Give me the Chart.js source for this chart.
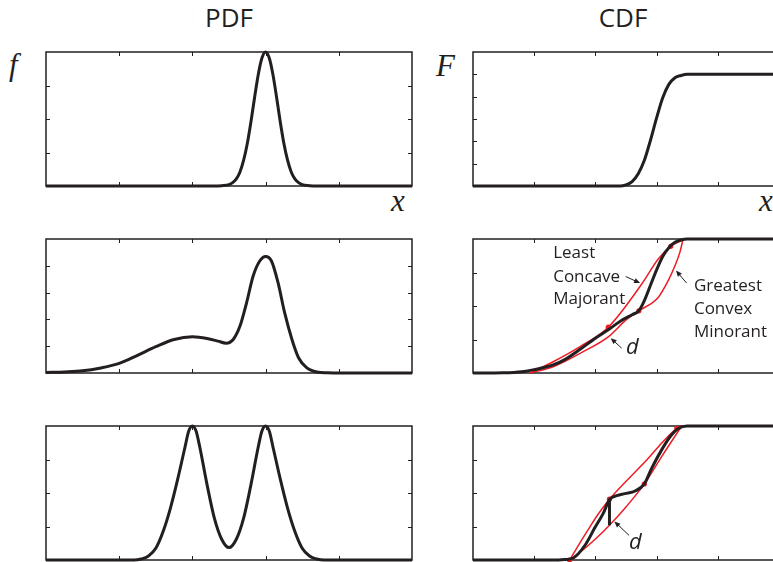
<!DOCTYPE html>
<html>
<head>
<meta charset="utf-8">
<title>PDF / CDF</title>
<script src="https://cdn.jsdelivr.net/npm/chart.js@4.4.1/dist/chart.umd.min.js"></script>
<style>
  html, body { margin: 0; padding: 0; background: #fff; overflow: hidden; }
  #stage { position: relative; width: 773px; height: 562px; overflow: hidden; background: #fff; }
  #stage canvas { position: absolute; }
  .lbl { position: absolute; white-space: nowrap; line-height: 1; color: #231f20; }
  .title { font-family: "Open Sans", sans-serif; font-size: 26px; width: 120px; text-align: center; }
  .var { font-family: "Liberation Serif", "Times New Roman", serif; font-style: italic; font-size: 31px; }
</style>
</head>
<body>
<div id="stage">
  <div class="lbl title" style="left:169px; top:4px;">PDF</div>
  <div class="lbl title" style="left:563px; top:4px;">CDF</div>
  <div class="lbl var" style="left:9px; top:49px;">f</div>
  <div class="lbl var" style="left:436px; top:50px;">F</div>
  <div class="lbl var" style="left:391px; top:185px;">x</div>
  <div class="lbl var" style="left:759px; top:185px;">x</div>
</div>
<script>
// ---- tick positions ----
const xTicks      = [0, 1, 2, 3, 4, 5];
const pdfTicks4   = [0, 1, 2, 3, 4];
const pdfTicks5   = [0, 1, 2, 3, 4, 5];
const cdfTicks6   = [0, 0.2, 0.4, 0.6, 0.8, 1.0, 1.2];
const cdfTicks4   = [0, 0.25, 0.5, 0.75, 1.0];

// ---- row 1: single narrow peak ----
const pdfNarrowX = [0, 2.3, 2.4, 2.5, 2.55, 2.6, 2.65, 2.7, 2.75, 2.8, 2.85, 2.9, 2.95, 3.0, 3.05, 3.1, 3.15, 3.2, 3.25, 3.3, 3.35, 3.4, 3.45, 3.5, 3.6, 3.7, 5];
const pdfNarrowY = [0, 0, 0.01, 0.04, 0.10, 0.21, 0.42, 0.77, 1.27, 1.92, 2.65, 3.33, 3.82, 4.0, 3.82, 3.33, 2.65, 1.92, 1.27, 0.77, 0.42, 0.21, 0.10, 0.04, 0.01, 0, 0];
const cdfNarrowX = [0, 2.4, 2.5, 2.6, 2.7, 2.8, 2.9, 3.0, 3.1, 3.2, 3.3, 3.4, 3.5, 5];
const cdfNarrowY = [0, 0, 0.01, 0.04, 0.11, 0.23, 0.41, 0.61, 0.79, 0.91, 0.97, 0.99, 1.0, 1.0];

// ---- row 2: broad hump + narrow peak ----
const pdfMixX = [0, 0.25, 0.5, 0.75, 1.0, 1.25, 1.5, 1.75, 2.0, 2.2, 2.35, 2.46, 2.56, 2.65, 2.74, 2.83, 2.92, 3.0, 3.08, 3.17, 3.26, 3.36, 3.45, 3.56, 3.7, 3.85, 4.0, 5.0];
const pdfMixY = [0.02, 0.04, 0.08, 0.19, 0.36, 0.66, 0.98, 1.25, 1.35, 1.29, 1.19, 1.11, 1.26, 1.75, 2.62, 3.62, 4.18, 4.35, 4.18, 3.37, 2.25, 1.25, 0.57, 0.2, 0.04, 0.01, 0, 0];
const cdfMixX = [0, 0.5, 0.8, 1.0, 1.31, 1.5, 1.75, 2.0, 2.21, 2.4, 2.6, 2.71, 2.8, 2.9, 3.0, 3.1, 3.2, 3.3, 3.4, 3.5, 5];
const cdfMixY = [0, 0.002, 0.01, 0.025, 0.06, 0.10, 0.177, 0.26, 0.322, 0.385, 0.435, 0.464, 0.54, 0.655, 0.77, 0.87, 0.935, 0.975, 0.993, 1.0, 1.0];
const lcmMixX = [0.93, 1.31, 1.75, 2.21, 2.76, 3.03, 3.23, 3.43];
const lcmMixY = [0, 0.084, 0.197, 0.342, 0.666, 0.853, 0.945, 0.993];
const gcmMixX = [0.93, 1.31, 1.75, 2.21, 2.51, 2.71, 3.03, 3.19, 3.30, 3.38, 3.43];
const gcmMixY = [0, 0.047, 0.147, 0.27, 0.40, 0.464, 0.566, 0.69, 0.80, 0.90, 0.993];
const touchMixX = [3.23, 2.71, 2.21];
const touchMixY = [0.945, 0.464, 0.342];

// ---- row 3: two equal peaks ----
const pdfTwinX = [0, 1.2, 1.3, 1.4, 1.5, 1.6, 1.7, 1.8, 1.9, 1.95, 2.0, 2.05, 2.1, 2.2, 2.3, 2.4, 2.5, 2.6, 2.7, 2.8, 2.9, 2.95, 3.0, 3.05, 3.1, 3.2, 3.3, 3.4, 3.5, 3.6, 3.7, 3.8, 5];
const pdfTwinY = [0, 0, 0.03, 0.12, 0.35, 0.85, 1.55, 2.42, 3.38, 3.85, 4.0, 3.85, 3.38, 2.25, 1.25, 0.62, 0.37, 0.62, 1.25, 2.25, 3.38, 3.85, 4.0, 3.85, 3.38, 2.42, 1.55, 0.85, 0.35, 0.12, 0.03, 0, 0];
const cdfTwinX = [0, 1.4, 1.5, 1.64, 1.83, 1.99, 2.13, 2.23, 2.35, 2.48, 2.65, 2.8, 2.92, 3.08, 3.22, 3.35, 3.5, 5];
const cdfTwinY = [0, 0, 0.003, 0.015, 0.11, 0.24, 0.35, 0.45, 0.48, 0.495, 0.515, 0.568, 0.685, 0.82, 0.92, 0.98, 1.0, 1.0];
const lcmTwinX = [1.58, 1.75, 1.9, 2.05, 2.23, 2.78, 3.33, 3.41];
const lcmTwinY = [0, 0.13, 0.24, 0.345, 0.454, 0.718, 0.983, 1.0];
const gcmTwinX = [1.58, 1.8, 2.0, 2.23, 2.5, 2.8, 3.08, 3.41];
const gcmTwinY = [0, 0.077, 0.157, 0.26, 0.396, 0.568, 0.77, 1.0];
const touchTwinX = [1.58, 2.23, 2.80, 3.33];
const touchTwinY = [0, 0.454, 0.568, 0.983];
const gapTwinX = [2.23, 2.23];
const gapTwinY = [0.454, 0.26];

const INK = '#231f20';
const RED = '#ed1c24';
const PAD = 8;

function pts(xs, ys) { return xs.map((x, i) => ({ x: x, y: ys[i] })); }

function curve(xs, ys, color, width) {
  return {
    data: pts(xs, ys), borderColor: color, borderWidth: width, pointRadius: 0,
    fill: false, cubicInterpolationMode: 'monotone', clip: false
  };
}
function straight(xs, ys, color, width) {
  return {
    data: pts(xs, ys), borderColor: color, borderWidth: width, pointRadius: 0,
    fill: false, tension: 0, clip: false, borderCapStyle: 'butt'
  };
}
function dots(xs, ys) {
  return {
    data: pts(xs, ys), showLine: false, pointRadius: 2.6, pointBorderWidth: 0,
    pointBackgroundColor: RED, borderColor: RED, clip: false
  };
}

// Frame with inward ticks on all four sides, plus text / arrow notes
function boxPlugin(spec) {
  return {
    id: 'box',
    beforeDatasetsDraw(chart) {
      const { ctx, chartArea: a } = chart;
      const sx = chart.scales.x, sy = chart.scales.y;
      const L = 4;
      ctx.save();
      ctx.strokeStyle = INK;
      ctx.lineWidth = 1.5;
      ctx.strokeRect(a.left, a.top, a.right - a.left, a.bottom - a.top);
      ctx.beginPath();
      spec.xTicks.forEach(v => {
        const p = Math.round(sx.getPixelForValue(v)) + 0.5;
        if (p <= a.left + 1 || p >= a.right - 1) return;
        ctx.moveTo(p, a.bottom); ctx.lineTo(p, a.bottom - L);
        ctx.moveTo(p, a.top); ctx.lineTo(p, a.top + L);
      });
      spec.yTicks.forEach(v => {
        const p = Math.round(sy.getPixelForValue(v)) + 0.5;
        if (p <= a.top + 1 || p >= a.bottom - 1) return;
        ctx.moveTo(a.left, p); ctx.lineTo(a.left + L, p);
        ctx.moveTo(a.right, p); ctx.lineTo(a.right - L, p);
      });
      ctx.lineWidth = 1;
      ctx.stroke();
      ctx.restore();
    },
    afterDatasetsDraw(chart) {
      const { ctx } = chart;
      const sx = chart.scales.x, sy = chart.scales.y;
      ctx.save();
      (spec.arrows || []).forEach(ar => {
        const x1 = sx.getPixelForValue(ar.from[0]), y1 = sy.getPixelForValue(ar.from[1]);
        const x2 = sx.getPixelForValue(ar.to[0]), y2 = sy.getPixelForValue(ar.to[1]);
        const ang = Math.atan2(y2 - y1, x2 - x1);
        const hl = 6, hw = 2.6;
        ctx.strokeStyle = INK; ctx.fillStyle = INK; ctx.lineWidth = 1;
        ctx.beginPath();
        ctx.moveTo(x1, y1);
        ctx.lineTo(x2 - Math.cos(ang) * hl * 0.8, y2 - Math.sin(ang) * hl * 0.8);
        ctx.stroke();
        ctx.beginPath();
        ctx.moveTo(x2, y2);
        ctx.lineTo(x2 - Math.cos(ang) * hl - Math.sin(ang) * hw, y2 - Math.sin(ang) * hl + Math.cos(ang) * hw);
        ctx.lineTo(x2 - Math.cos(ang) * hl + Math.sin(ang) * hw, y2 - Math.sin(ang) * hl - Math.cos(ang) * hw);
        ctx.closePath();
        ctx.fill();
      });
      (spec.notes || []).forEach(n => {
        ctx.font = n.font;
        ctx.fillStyle = INK;
        ctx.textAlign = 'left';
        ctx.textBaseline = 'alphabetic';
        ctx.fillText(n.text, sx.getPixelForValue(n.x), sy.getPixelForValue(n.y));
      });
      ctx.restore();
    }
  };
}

const NOTE = "17px 'Open Sans', sans-serif";
const DFONT = "italic 22px 'Open Sans', sans-serif";

const panels = [
  { box: [46, 52, 366, 134], yMax: 4, yTicks: pdfTicks4,
    sets: [curve(pdfNarrowX, pdfNarrowY, INK, 3)] },
  { box: [473, 52, 306, 134], yMax: 1.2, yTicks: cdfTicks6,
    sets: [curve(cdfNarrowX, cdfNarrowY, INK, 3)] },
  { box: [46, 239, 366, 134], yMax: 5, yTicks: pdfTicks5,
    sets: [curve(pdfMixX, pdfMixY, INK, 3)] },
  { box: [473, 239, 306, 134], yMax: 1, yTicks: cdfTicks4,
    sets: [
      curve(cdfMixX, cdfMixY, INK, 3),
      curve(lcmMixX, lcmMixY, RED, 1.5),
      curve(gcmMixX, gcmMixY, RED, 1.5),
      dots(touchMixX, touchMixY)
    ],
    notes: [
      { text: 'Least', x: 1.31, y: 0.858, font: NOTE },
      { text: 'Concave', x: 1.31, y: 0.681, font: NOTE },
      { text: 'Majorant', x: 1.31, y: 0.516, font: NOTE },
      { text: 'Greatest', x: 3.61, y: 0.613, font: NOTE },
      { text: 'Convex', x: 3.61, y: 0.441, font: NOTE },
      { text: 'Minorant', x: 3.61, y: 0.269, font: NOTE },
      { text: 'd', x: 2.50, y: 0.142, font: DFONT }
    ],
    arrows: [
      { from: [2.495, 0.72], to: [2.73, 0.671] },
      { from: [3.49, 0.671], to: [3.317, 0.765] },
      { from: [2.43, 0.185], to: [2.25, 0.26] }
    ] },
  { box: [46, 426, 366, 134], yMax: 4, yTicks: pdfTicks4,
    sets: [curve(pdfTwinX, pdfTwinY, INK, 3)] },
  { box: [473, 426, 306, 134], yMax: 1, yTicks: cdfTicks4,
    sets: [
      curve(cdfTwinX, cdfTwinY, INK, 3),
      straight(gapTwinX, gapTwinY, INK, 3),
      curve(lcmTwinX, lcmTwinY, RED, 1.5),
      curve(gcmTwinX, gcmTwinY, RED, 1.5),
      dots(touchTwinX, touchTwinY)
    ],
    notes: [
      { text: 'd', x: 2.55, y: 0.084, font: DFONT }
    ],
    arrows: [
      { from: [2.55, 0.184], to: [2.31, 0.288] }
    ] }
];

const stage = document.getElementById('stage');
panels.forEach(p => {
  const [L, T, W, H] = p.box;
  const cv = document.createElement('canvas');
  cv.width = W + 2 * PAD;
  cv.height = H + 2 * PAD;
  cv.style.left = (L - PAD) + 'px';
  cv.style.top = (T - PAD) + 'px';
  cv.style.width = cv.width + 'px';
  cv.style.height = cv.height + 'px';
  stage.appendChild(cv);
  new Chart(cv, {
    type: 'line',
    data: { datasets: p.sets },
    options: {
      responsive: false,
      animation: false,
      devicePixelRatio: 1,
      events: [],
      layout: { padding: PAD },
      plugins: { legend: { display: false }, tooltip: { enabled: false } },
      scales: {
        x: { type: 'linear', min: xTicks[0], max: xTicks[xTicks.length - 1], display: false },
        y: { type: 'linear', min: 0, max: p.yMax, display: false }
      }
    },
    plugins: [boxPlugin({ xTicks: xTicks, yTicks: p.yTicks, notes: p.notes, arrows: p.arrows })]
  });
});
</script>
</body>
</html>
